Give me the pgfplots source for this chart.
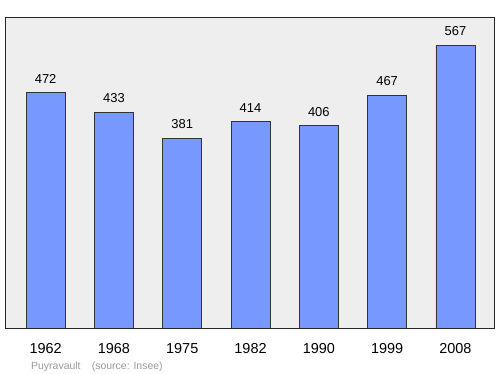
\documentclass[border=0pt]{standalone}
\usepackage{pgfplots}
\pgfplotsset{compat=1.18}
\usepackage{fontspec}
\setmainfont{Liberation Sans}
\definecolor{barblue}{RGB}{119,153,255}
\definecolor{bggray}{RGB}{238,238,238}
\definecolor{footgray}{RGB}{153,153,153}
\begin{document}
\begin{tikzpicture}
\begin{axis}[
  scale only axis,
  width=489bp, height=311bp,
  xmin=-0.595, xmax=6.565,
  ymin=0, ymax=623.7,
  axis background/.style={fill=bggray},
  axis line style={draw=black!85, line width=1pt},
  ybar, bar width=39bp,
  xtick=data,
  xticklabels={1962,1968,1975,1982,1990,1999,2008},
  xticklabel style={font=\fontsize{14.5}{16}\selectfont, yshift=-12bp},
  major tick length=0pt,
  ytick=\empty,
  nodes near coords,
  every node near coord/.append style={font=\fontsize{13}{14}\selectfont, yshift=5.5bp},
  /pgf/number format/assume math mode=true,
]
\addplot[fill=barblue, draw=black!80, line width=0.8pt] coordinates {
(0,472) (1,433) (2,381) (3,414) (4,406) (5,467) (6,567)
};
\end{axis}
\node[anchor=base west, text=footgray, font=\fontsize{10.5}{12}\selectfont, inner sep=0pt] at (26bp,-41bp) {Puyravault};
\node[anchor=base west, text=footgray, font=\fontsize{10.5}{12}\selectfont, inner sep=0pt] at (86.7bp,-41bp) {(source: Insee)};
\pgfresetboundingbox
\path (-5bp,-46bp) rectangle (495bp,328bp);
\end{tikzpicture}
\end{document}
